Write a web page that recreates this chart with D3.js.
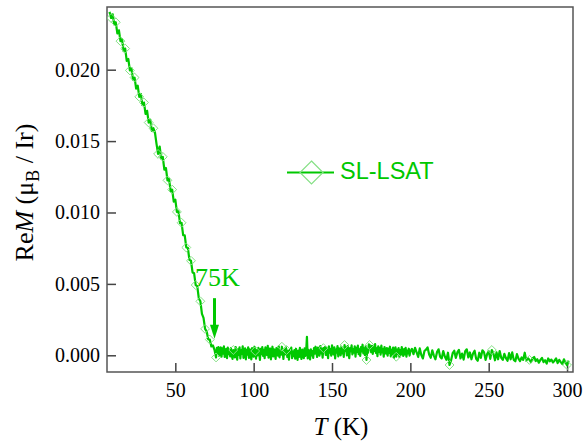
<!DOCTYPE html>
<html>
<head>
<meta charset="utf-8">
<script src="https://cdn.jsdelivr.net/npm/d3@7"></script>
<style>
  html, body { margin: 0; padding: 0; background: #fff; }
  svg { display: block; }
</style>
</head>
<body>
<svg id="chart" width="584" height="442"></svg>
<script>
// Re M(T) of the SL-LSAT sample, magnetisation in units of 1e-5 μB / Ir.

// Ordered side, 8 K to 75 K in 1 K steps
const orderedStartT = 8;
const orderedStepT = 1;
const orderedValues = [
  2405, 2362, 2388, 2318, 2332, 2254, 2276, 2200, 2214, 2130,
  2148, 2062, 2075, 1995, 2010, 1930, 1945, 1868, 1888, 1810,
  1830, 1752, 1770, 1690, 1712, 1630, 1650, 1572, 1590, 1560,
  1480, 1410, 1462, 1378, 1390, 1300, 1312, 1225, 1236, 1150,
  1160, 1076, 1090, 1004, 1008,  925,  928,  842,  840,  755,
   752,  668,  662,  580,  574,  492,  484,  398,  378,  290,
   262,  185,  168,  112,  110,   62,   70,   38
];

// Above the transition, 76 K to 200 K in 0.5 K steps
const paraLowStartT = 76;
const paraLowStepT = 0.5;
const paraLowValues = [
  -15, 52, 10, 58, -5, 40, 55, -10, 48, 12, 62, -12, 35, 45, -20, 54, 8, 38, -8, 50,
  0, -25, 37, 30, -15, 58, 20, -30, 42, 2, 55, -22, 34, 10, 62, -18, 25, 48, -28, 38,
  5, 56, -18, 42, 20, -28, 50, 28, -10, 60, 30, -24, 36, 0, 52, 22, -32, 45, 8, 58,
  -5, 38, -20, 55, 25, 2, 66, -16, 32, 48, -28, 20, 60, -8, 42, 12, -25, 50, 28, -2,
  62, -14, 36, 5, 60, 22, -26, 44, 6, 56, 37, -12, 30, -30, 40, 15, 54, -20, 26, -6,
  36, -24, 46, 10, -32, 32, -12, 52, 4, -26, 40, 18, -20, 48, -4, 30, 130, -22, 38, 6,
  -28, 42, 0, 30, -18, 50, 12, 60, 20, -12, 54, 30, -2, 64, 14, 46, -16, 50, 34, 58,
  2, 52, 26, -20, 62, 18, 44, -2, 70, 30, 6, 56, -22, 40, 18, 64, -8, 48, 26, 0,
  60, 14, 40, -12, 72, 30, 54, 0, 64, 22, -20, 50, 28, 70, 6, 44, 18, 62, -10, 52,
  24, 68, 8, 42, -4, 58, 28, 74, 14, 48, 2, 64, -33, 40, 18, 76, 72, 46, 22, 66,
  10, 56, 30, 78, 16, 48, -6, 62, 24, 52, 4, 68, 20, 42, -10, 58, 28, 12, 50, -2,
  46, 16, 60, -8, 38, 8, 54, -18, 30, 56, -10, 40, 10, 50, -12, 36, 4, 58, 18, -4,
  44, 6, 52, -10, 32, 14, 46, -2, 26
];

// High-temperature tail, 201 K to 301 K in 1 K steps
const paraHighStartT = 201;
const paraHighStepT = 1;
const paraHighValues = [
  45, 8, 52, 20, -12, 48, 2, -22, 30, 40,
  55, 5, -18, 35, -2, -28, 22, 42, -10, -22,
  30, -8, -32, 18, -68, -35, 15, 32, -18, 20,
  38, -22, 12, -30, 28, 42, -15, 20, -28, 12,
  32, -25, -38, 18, -18, 35, 22, -32, 8, 28,
  -25, 37, 12, -35, 20, -28, 30, -18, -32, 10,
  -20, -38, 15, -28, 20, -32, -42, 8, -24, -40,
  -15, -32, 18, -38, -20, -32, -48, -22, -12, -40,
  -28, -52, -32, -18, -48, -35, -58, -22, -42, -30,
  -50, -38, -22, -55, -32, -48, -62, -28, -52, -68, -38
];

// Temperatures carrying a diamond marker
const markerTemps = [
  9, 12, 15, 18, 21, 24, 27, 30, 33, 36, 39, 42, 45, 48, 51, 54, 57, 60, 63, 66, 69, 72,
  76, 87, 101, 118, 121, 144.5, 158, 172, 174, 191, 225, 252, 276, 300
];

const xTicks = [50, 100, 150, 200, 250, 300];
const yTicks = [0, 0.005, 0.010, 0.015, 0.020];
const seriesName = "SL-LSAT";
const transitionT = 75;
const transitionLabel = "75K";

const UNIT = 1e-5;
const GREEN = "#00c800";
const MARKER_GREEN = "#86e086";
const SERIF = "'Liberation Serif', 'Times New Roman', serif";
const SANS = "'Liberation Sans', Arial, sans-serif";

function segment(startT, stepT, values) {
  return values.map((v, i) => ({ T: +(startT + i * stepT).toFixed(2), M: v * UNIT }));
}
const data = [
  ...segment(orderedStartT, orderedStepT, orderedValues),
  ...segment(paraLowStartT, paraLowStepT, paraLowValues),
  ...segment(paraHighStartT, paraHighStepT, paraHighValues)
];
const markerSet = new Set(markerTemps.map(t => t.toFixed(2)));
const markers = data.filter(d => markerSet.has(d.T.toFixed(2)));

const svg = d3.select("#chart");
const plot = { left: 107, top: 7, right: 573, bottom: 372 };

const x = d3.scaleLinear().domain([6.4, 303.8]).range([plot.left, plot.right]);
const y = d3.scaleLinear().domain([-0.00117, 0.02439]).range([plot.bottom, plot.top]);

svg.append("defs").append("clipPath").attr("id", "plotClip")
  .append("rect")
  .attr("x", plot.left).attr("y", plot.top)
  .attr("width", plot.right - plot.left).attr("height", plot.bottom - plot.top);

// Axes with inward ticks
const xAxis = svg.append("g")
  .attr("transform", `translate(0,${plot.bottom})`)
  .call(d3.axisBottom(x).tickValues(xTicks).tickSize(-9).tickPadding(11).tickFormat(d3.format("d")));
const yAxis = svg.append("g")
  .attr("transform", `translate(${plot.left},0)`)
  .call(d3.axisLeft(y).tickValues(yTicks).tickSize(-9).tickPadding(7).tickFormat(d3.format(".3f")));

[xAxis, yAxis].forEach(g => {
  g.attr("font-family", SERIF).attr("font-size", 20);
  g.select(".domain").remove();
  g.selectAll(".tick line").attr("stroke", "#444").attr("stroke-width", 1.5);
  g.selectAll(".tick text")
    .attr("fill", "#000")
    .style("font-family", SERIF)
    .style("font-size", "20px");
});

// Frame
svg.append("rect")
  .attr("x", plot.left).attr("y", plot.top)
  .attr("width", plot.right - plot.left).attr("height", plot.bottom - plot.top)
  .attr("fill", "none").attr("stroke", "#555").attr("stroke-width", 1.5);

// Data
const g = svg.append("g").attr("clip-path", "url(#plotClip)");
g.append("path")
  .datum(data)
  .attr("fill", "none")
  .attr("stroke", GREEN)
  .attr("stroke-width", 2.2)
  .attr("stroke-linejoin", "round")
  .attr("d", d3.line().x(d => x(d.T)).y(d => y(d.M)));

const diamond = d3.symbol().type(d3.symbolDiamond2).size(50);
g.selectAll("path.marker")
  .data(markers)
  .join("path")
  .attr("class", "marker")
  .attr("transform", d => `translate(${x(d.T)},${y(d.M)})`)
  .attr("d", diamond)
  .attr("fill", "none")
  .attr("stroke", MARKER_GREEN)
  .attr("stroke-width", 1);

// Transition annotation
const ax = x(transitionT);
const tipY = y(0.00115);
const tailY = y(0.0040);
svg.append("line")
  .attr("x1", ax).attr("x2", ax)
  .attr("y1", tailY).attr("y2", tipY - 12)
  .attr("stroke", GREEN).attr("stroke-width", 3);
svg.append("path")
  .attr("d", `M${ax - 4.5},${tipY - 14} L${ax + 4.5},${tipY - 14} L${ax},${tipY} Z`)
  .attr("fill", GREEN);
svg.append("text")
  .attr("x", x(transitionT + 1.8))
  .attr("y", y(0.00485))
  .attr("text-anchor", "middle")
  .attr("fill", GREEN)
  .style("font-family", SERIF)
  .style("font-size", "26px")
  .text(transitionLabel);

// Legend
const legend = svg.append("g").attr("transform", "translate(287,172.5)");
legend.append("line")
  .attr("x1", 0).attr("x2", 47).attr("y1", 0).attr("y2", 0)
  .attr("stroke", GREEN).attr("stroke-width", 2);
legend.append("path")
  .attr("transform", "translate(24.5,0)")
  .attr("d", "M0,-11.5 L11.5,0 L0,11.5 L-11.5,0 Z")
  .attr("fill", "none")
  .attr("stroke", MARKER_GREEN)
  .attr("stroke-width", 1.2);
legend.append("text")
  .attr("x", 53).attr("y", 6)
  .attr("fill", GREEN)
  .style("font-family", SANS)
  .style("font-size", "23.5px")
  .text(seriesName);

// Axis titles
const xTitle = svg.append("text")
  .attr("x", 341).attr("y", 435)
  .attr("text-anchor", "middle")
  .attr("fill", "#000")
  .style("font-family", SERIF)
  .style("font-size", "25px");
xTitle.append("tspan").style("font-style", "italic").text("T");
xTitle.append("tspan").text(" (K)");

const yTitle = svg.append("text")
  .attr("transform", "translate(33,192.5) rotate(-90)")
  .attr("text-anchor", "middle")
  .attr("fill", "#000")
  .style("font-family", SERIF)
  .style("font-size", "26px");
yTitle.append("tspan").text("Re");
yTitle.append("tspan").style("font-style", "italic").text("M");
yTitle.append("tspan").text(" (μ");
yTitle.append("tspan").attr("dy", 6).style("font-size", "18px").text("B");
yTitle.append("tspan").attr("dy", -6).text(" / Ir)");
</script>
</body>
</html>
